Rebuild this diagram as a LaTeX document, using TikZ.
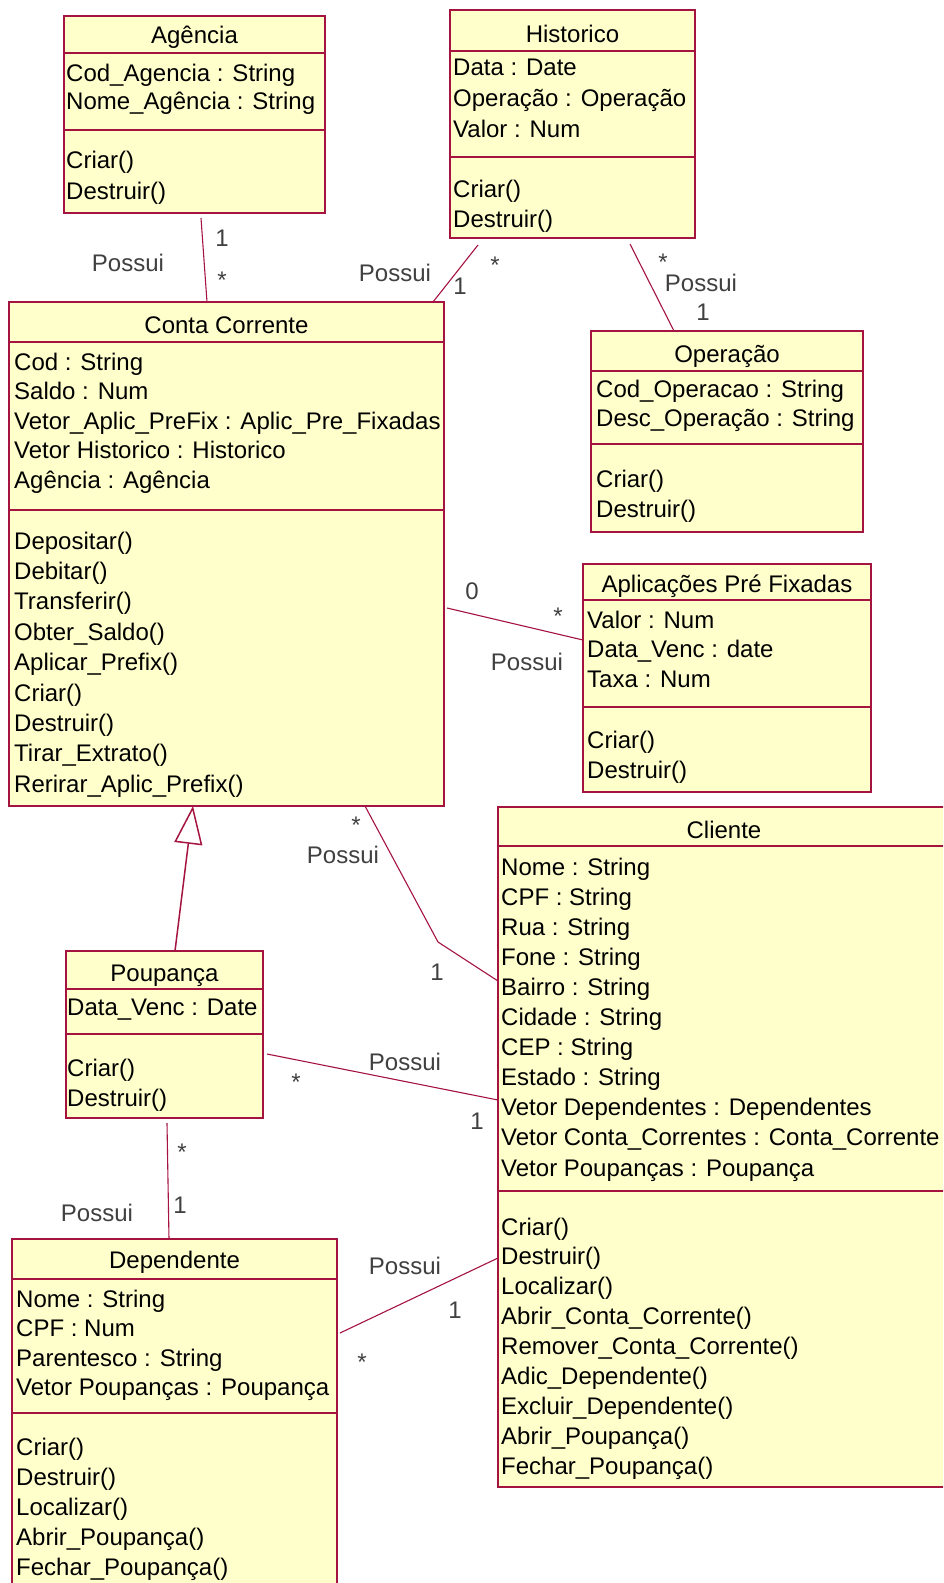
\documentclass[tikz,border=0pt]{standalone}
\usepackage{fontspec}
\setmainfont{Liberation Sans}
\usetikzlibrary{arrows.meta}
\definecolor{roseline}{RGB}{165,20,65}
\definecolor{rosefill}{RGB}{255,255,204}
\newcommand{\umlfont}{\fontsize{24}{29}\selectfont}
% box of a class: name, x1, y1, x2, y2, title line, separator line
\newcommand{\umlbox}[7]{%
  \pgfmathsetmacro{\bw}{#4-#2}\pgfmathsetmacro{\bh}{#5-#3}%
  \node[classbox, minimum width=\bw pt, minimum height=\bh pt] (#1) at (#2,#3) {};
  \draw[sepline] (#2,#6) -- (#4,#6) (#2,#7) -- (#4,#7);
}
\tikzset{
  classbox/.style={draw=roseline, fill=rosefill, line width=1.6pt, inner sep=0pt, outer sep=0pt, anchor=north west},
  sepline/.style={draw=roseline, line width=1.6pt},
  ctitle/.style={anchor=base, inner sep=0pt, font=\umlfont},
  member/.style={anchor=base west, inner sep=0pt, font=\umlfont},
  assoc/.style={draw=roseline, line width=1.1pt},
  general/.style={draw=roseline, line width=1.5pt, -{Triangle[open, length=38pt, width=28pt]}},
  mult/.style={inner sep=0pt, font=\umlfont, text=black!75},
}
\begin{document}
\begin{tikzpicture}[x=1pt,y=-1pt]
\useasboundingbox (0,0) rectangle (943,1583);
\fill[white] (0,0) rectangle (943,1583);
\clip (0,0) rectangle (943,1583);

% Agencia
\umlbox{agencia}{64}{16}{325}{213}{53}{130}
\node[ctitle] (agencia-t) at ([yshift=-27pt]agencia.north) {Agência};
\foreach \t [count=\i from 0] in {Cod\_Agencia : String, Nome\_Agência : String}
  \node[member] (agencia-a\i) at (66,{81+28*\i}) {\t};
\foreach \t [count=\i from 0] in {Criar(), Destruir()}
  \node[member] (agencia-m\i) at (66,{168+31*\i}) {\t};

% Historico
\umlbox{historico}{450}{10}{695}{238}{51}{157}
\node[ctitle] (historico-t) at ([yshift=-32pt]historico.north) {Historico};
\foreach \t [count=\i from 0] in {Data : Date, Operação : Operação, Valor : Num}
  \node[member] (historico-a\i) at (453,{75+31*\i}) {\t};
\foreach \t [count=\i from 0] in {Criar(), Destruir()}
  \node[member] (historico-m\i) at (453,{197+30*\i}) {\t};

% Conta Corrente
\umlbox{cc}{9}{302}{444}{806}{342}{510}
\node[ctitle] (cc-t) at ([yshift=-31pt]cc.north) {Conta Corrente};
\foreach \t [count=\i from 0] in {Cod : String, Saldo : Num, Vetor\_Aplic\_PreFix : Aplic\_Pre\_Fixadas, Vetor Historico : Historico, Agência : Agência}
  \node[member] (cc-a\i) at (14,{370+29.6*\i}) {\t};
\foreach \t [count=\i from 0] in {Depositar(), Debitar(), Transferir(), Obter\_Saldo(), Aplicar\_Prefix(), Criar(), Destruir(), Tirar\_Extrato(), Rerirar\_Aplic\_Prefix()}
  \node[member] (cc-m\i) at (14,{549+30.4*\i}) {\t};

% Operacao
\umlbox{operacao}{591}{331}{863}{532}{371}{444}
\node[ctitle] (operacao-t) at ([yshift=-31pt]operacao.north) {Operação};
\foreach \t [count=\i from 0] in {Cod\_Operacao : String, Desc\_Operação : String}
  \node[member] (operacao-a\i) at (596,{397+29*\i}) {\t};
\foreach \t [count=\i from 0] in {Criar(), Destruir()}
  \node[member] (operacao-m\i) at (596,{487+30*\i}) {\t};

% Aplicacoes Pre Fixadas
\umlbox{aplic}{583}{564}{871}{792}{600}{707}
\node[ctitle] (aplic-t) at ([yshift=-28pt]aplic.north) {Aplicações Pré Fixadas};
\foreach \t [count=\i from 0] in {Valor : Num, Data\_Venc : date, Taxa : Num}
  \node[member] (aplic-a\i) at (587,{628+29.5*\i}) {\t};
\foreach \t [count=\i from 0] in {Criar(), Destruir()}
  \node[member] (aplic-m\i) at (587,{748+30*\i}) {\t};

% Cliente
\umlbox{cliente}{498}{807}{950}{1487}{846}{1191}
\node[ctitle] (cliente-t) at ([yshift=-31pt]cliente.north) {Cliente};
\foreach \t [count=\i from 0] in {Nome : String, CPF : String, Rua : String, Fone : String, Bairro : String, Cidade : String, CEP : String, Estado : String, Vetor Dependentes : Dependentes, Vetor Conta\_Correntes : Conta\_Corrente, Vetor Poupanças : Poupança}
  \node[member] (cliente-a\i) at (501,{875+30.1*\i}) {\t};
\foreach \t [count=\i from 0] in {Criar(), Destruir(), Localizar(), Abrir\_Conta\_Corrente(), Remover\_Conta\_Corrente(), Adic\_Dependente(), Excluir\_Dependente(), Abrir\_Poupança(), Fechar\_Poupança()}
  \node[member] (cliente-m\i) at (501,{1235+29.9*\i}) {\t};

% Poupanca
\umlbox{poupanca}{66}{951}{263}{1118}{989}{1034}
\node[ctitle] (poupanca-t) at ([yshift=-30pt]poupanca.north) {Poupança};
\node[member] (poupanca-a0) at (67,1015) {Data\_Venc : Date};
\foreach \t [count=\i from 0] in {Criar(), Destruir()}
  \node[member] (poupanca-m\i) at (67,{1076+30*\i}) {\t};

% Dependente
\umlbox{dependente}{12}{1239}{337}{1620}{1279}{1413}
\node[ctitle] (dependente-t) at ([yshift=-29pt]dependente.north) {Dependente};
\foreach \t [count=\i from 0] in {Nome : String, CPF : Num, Parentesco : String, Vetor Poupanças : Poupança}
  \node[member] (dependente-a\i) at (16,{1307+29.5*\i}) {\t};
\foreach \t [count=\i from 0] in {Criar(), Destruir(), Localizar(), Abrir\_Poupança(), Fechar\_Poupança()}
  \node[member] (dependente-m\i) at (16,{1455+30*\i}) {\t};

% associacoes
\draw[assoc] ([shift={(137pt,-5pt)}]agencia.south west) -- ([xshift=198pt]cc.north west);
\node[mult] (ag-cc-1) at (222,238) {1};
\node[mult] (ag-cc-n) at (222,280) {*};
\node[mult] (ag-cc-r) at (128,263) {Possui};

\draw[assoc] ([shift={(28pt,-7pt)}]historico.south west) -- ([xshift=424pt]cc.north west);
\node[mult] (hi-cc-n) at (495,265) {*};
\node[mult] (hi-cc-1) at (460,286) {1};
\node[mult] (hi-cc-r) at (395,273) {Possui};

\draw[assoc] ([shift={(180pt,-6pt)}]historico.south west) -- ([xshift=83pt]operacao.north west);
\node[mult] (hi-op-n) at (663,262) {*};
\node[mult] (hi-op-r) at (701,283) {Possui};
\node[mult] (hi-op-1) at (703,312) {1};

\draw[assoc] ([shift={(3pt,-306pt)}]cc.north east) -- ([yshift=-76pt]aplic.north west);
\node[mult] (cc-ap-0) at (472,591) {0};
\node[mult] (cc-ap-n) at (558,616) {*};
\node[mult] (cc-ap-r) at (527,662) {Possui};

\draw[general] ([xshift=109pt]poupanca.north west) -- ([xshift=184pt]cc.south west);

\coordinate (cc-cl-bend) at (438,942);
\draw[assoc] ([xshift=356pt]cc.south west) -- (cc-cl-bend) -- ([yshift=-174pt]cliente.north west);
\node[mult] (cc-cl-n) at (356,825) {*};
\node[mult] (cc-cl-r) at (343,855) {Possui};
\node[mult] (cc-cl-1) at (437,972) {1};

\draw[assoc] ([shift={(4pt,-103pt)}]poupanca.north east) -- ([yshift=-293pt]cliente.north west);
\node[mult] (po-cl-n) at (296,1082) {*};
\node[mult] (po-cl-r) at (405,1062) {Possui};
\node[mult] (po-cl-1) at (477,1121) {1};

\draw[assoc] ([shift={(101pt,-5pt)}]poupanca.south west) -- ([xshift=157pt]dependente.north west);
\node[mult] (po-de-n) at (182,1152) {*};
\node[mult] (po-de-1) at (180,1205) {1};
\node[mult] (po-de-r) at (97,1213) {Possui};

\draw[assoc] ([shift={(3pt,-94pt)}]dependente.north east) -- ([yshift=-451pt]cliente.north west);
\node[mult] (de-cl-r) at (405,1266) {Possui};
\node[mult] (de-cl-1) at (455,1310) {1};
\node[mult] (de-cl-n) at (362,1362) {*};
\end{tikzpicture}
\end{document}
